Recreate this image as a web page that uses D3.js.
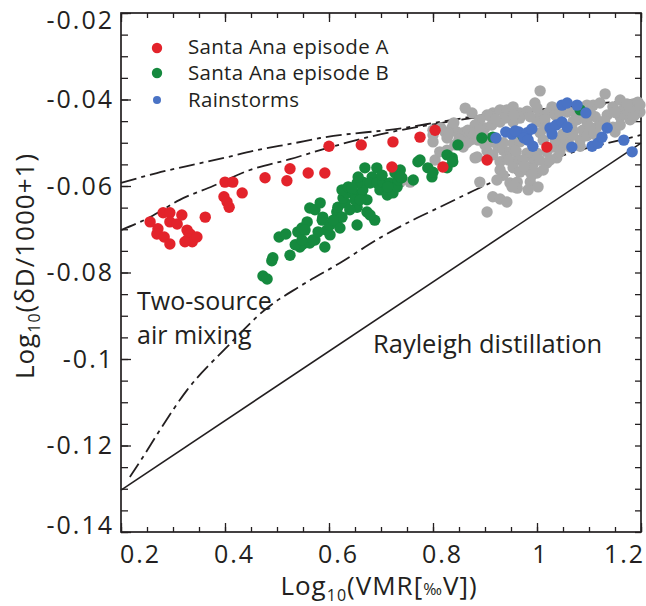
<!DOCTYPE html>
<html><head><meta charset="utf-8">
<script src="https://cdn.jsdelivr.net/npm/d3@7"></script>
<style>
body{margin:0;background:#fff;}
svg{display:block;}
text{font-family:"Open Sans",sans-serif;fill:#231f20;}
</style></head><body>
<svg id="chart" width="646" height="606"></svg>
<script>
// ---------- DATA ----------
const xDomain = [0.2, 1.2];
const yDomain = [-0.14, -0.02];
const xTickValues = [0.2, 0.4, 0.6, 0.8, 1.0, 1.2];
const xTickLabels = ["0.2", "0.4", "0.6", "0.8", "1", "1.2"];
const yTickValues = [-0.02, -0.04, -0.06, -0.08, -0.1, -0.12, -0.14];
const yTickLabels = ["-0.02", "-0.04", "-0.06", "-0.08", "-0.1", "-0.12", "-0.14"];
const seriesNames = ["Santa Ana episode A", "Santa Ana episode B", "Rainstorms"];

const grayPoints = [
[1.006,-0.0380],[0.996,-0.0408],[1.131,-0.0387],[0.862,-0.0420],[0.875,-0.0431],[0.904,-0.0436],
[0.915,-0.0431],[0.929,-0.0424],[0.942,-0.0424],[0.954,-0.0417],[0.967,-0.0431],[0.981,-0.0427],
[1.006,-0.0436],[1.021,-0.0431],[1.029,-0.0417],[1.058,-0.0429],[1.096,-0.0413],[1.108,-0.0413],
[1.121,-0.0408],[1.146,-0.0417],[1.160,-0.0401],[1.165,-0.0424],[1.185,-0.0410],[1.194,-0.0406],
[1.198,-0.0429],[1.112,-0.0440],[1.135,-0.0436],[1.160,-0.0440],[1.077,-0.0447],[1.096,-0.0452],
[1.125,-0.0452],[1.146,-0.0464],[1.088,-0.0471],[1.069,-0.0471],[0.929,-0.0452],[0.954,-0.0452],
[0.967,-0.0443],[1.000,-0.0452],[1.015,-0.0447],[0.910,-0.0438],[0.800,-0.0471],[0.823,-0.0475],
[0.837,-0.0464],[0.846,-0.0475],[0.858,-0.0477],[0.867,-0.0471],[0.871,-0.0482],[0.900,-0.0466],
[0.900,-0.0487],[0.871,-0.0494],[0.856,-0.0489],[0.827,-0.0489],[0.800,-0.0482],[0.800,-0.0498],
[0.925,-0.0510],[0.954,-0.0501],[0.967,-0.0498],[1.060,-0.0498],[1.083,-0.0494],[1.096,-0.0484],
[1.069,-0.0482],[1.050,-0.0498],[1.044,-0.0512],[1.063,-0.0510],[1.083,-0.0508],[0.827,-0.0517],
[0.885,-0.0533],[0.900,-0.0505],[0.904,-0.0519],[0.915,-0.0528],[0.935,-0.0517],[0.948,-0.0521],
[0.962,-0.0540],[0.929,-0.0544],[0.942,-0.0533],[0.954,-0.0558],[0.929,-0.0563],[0.935,-0.0575],
[0.967,-0.0568],[0.981,-0.0563],[0.992,-0.0551],[0.992,-0.0535],[1.000,-0.0524],[0.981,-0.0524],
[1.000,-0.0570],[1.019,-0.0547],[1.019,-0.0521],[1.031,-0.0510],[1.038,-0.0535],[1.044,-0.0521],
[0.804,-0.0540],[0.881,-0.0535],[0.890,-0.0591],[0.923,-0.0586],[0.948,-0.0593],[0.962,-0.0591],
[0.962,-0.0605],[0.987,-0.0591],[1.002,-0.0602],[0.952,-0.0602],[0.915,-0.0625],[0.929,-0.0630],
[0.942,-0.0637],[0.904,-0.0660],[0.756,-0.0591],[0.737,-0.0591],[0.813,-0.0521],
[0.890,-0.0447],[0.881,-0.0459],[0.913,-0.0459],[0.938,-0.0443],[0.987,-0.0440],[1.035,-0.0436],
[1.044,-0.0429],[1.073,-0.0429],[1.083,-0.0420],[1.175,-0.0429],[1.188,-0.0436],[1.102,-0.0429],
[1.115,-0.0464],[1.150,-0.0475],[1.160,-0.0459],[1.179,-0.0447],[1.198,-0.0413],[1.015,-0.0466],
[1.006,-0.0477],[1.012,-0.0494],[1.035,-0.0494],[0.887,-0.0494],[0.913,-0.0498],[0.842,-0.0505],
[0.858,-0.0510],[0.973,-0.0540],[1.012,-0.0563],[0.983,-0.0609],[1.102,-0.0464],[1.179,-0.0424],
[1.173,-0.0410],
[0.815,-0.0466],[0.830,-0.0480],[0.850,-0.0492],[0.865,-0.0500],[0.880,-0.0478],[0.890,-0.0470],
[0.840,-0.0454],[0.905,-0.0500],[0.935,-0.0500],[0.945,-0.0540],[0.960,-0.0520],[0.975,-0.0555],
[0.990,-0.0575],[1.005,-0.0540],[1.025,-0.0540],[1.050,-0.0480],[1.070,-0.0450],[1.090,-0.0440],
[1.110,-0.0480],[1.130,-0.0450],[1.150,-0.0430],[1.185,-0.0440],[1.000,-0.0420],[0.955,-0.0435],
[0.920,-0.0445]
];

const episodeB = [
[0.473,-0.0808],[0.481,-0.0815],[0.490,-0.0773],[0.492,-0.0766],[0.525,-0.0760],[0.504,-0.0718],
[0.517,-0.0711],[0.540,-0.0706],[0.544,-0.0741],[0.550,-0.0734],[0.563,-0.0732],[0.592,-0.0741],
[0.548,-0.0697],[0.558,-0.0683],[0.554,-0.0702],[0.573,-0.0725],[0.587,-0.0679],[0.602,-0.0713],
[0.596,-0.0702],[0.602,-0.0690],[0.563,-0.0651],[0.573,-0.0655],[0.583,-0.0639],[0.588,-0.0672],
[0.615,-0.0683],[0.621,-0.0697],[0.615,-0.0660],[0.617,-0.0649],[0.625,-0.0672],[0.631,-0.0639],
[0.627,-0.0628],[0.635,-0.0616],[0.625,-0.0609],[0.637,-0.0602],[0.646,-0.0614],[0.654,-0.0690],
[0.654,-0.0649],[0.650,-0.0632],[0.640,-0.0655],[0.663,-0.0625],[0.665,-0.0609],[0.673,-0.0632],
[0.673,-0.0660],[0.688,-0.0679],[0.679,-0.0667],[0.665,-0.0591],[0.654,-0.0593],[0.656,-0.0579],
[0.669,-0.0558],[0.692,-0.0558],[0.683,-0.0579],[0.679,-0.0593],[0.692,-0.0593],[0.698,-0.0609],
[0.704,-0.0591],[0.712,-0.0605],[0.712,-0.0621],[0.723,-0.0616],[0.717,-0.0593],[0.731,-0.0570],
[0.737,-0.0563],[0.740,-0.0581],[0.731,-0.0602],[0.702,-0.0575],[0.771,-0.0544],[0.762,-0.0586],
[0.790,-0.0558],[0.798,-0.0579],[0.800,-0.0568],[0.775,-0.0540],[0.827,-0.0528],[0.837,-0.0535],
[0.848,-0.0505],[0.894,-0.0489],[0.915,-0.0487],[0.973,-0.0484],[1.083,-0.0424],[0.608,-0.0679],
[0.644,-0.0605],[0.660,-0.0632],[0.733,-0.0586],[0.727,-0.0570],[0.713,-0.0602],[0.737,-0.0579],
[0.535,-0.0736],[0.548,-0.0725],[0.569,-0.0725],[0.579,-0.0706],[0.827,-0.0558],[0.838,-0.0544]
];

const episodeA = [
[0.256,-0.0683],[0.271,-0.0699],[0.269,-0.0711],[0.281,-0.0662],[0.294,-0.0662],[0.294,-0.0683],
[0.308,-0.0688],[0.283,-0.0718],[0.294,-0.0734],[0.317,-0.0667],[0.327,-0.0702],[0.333,-0.0711],
[0.329,-0.0723],[0.337,-0.0729],[0.323,-0.0729],[0.346,-0.0718],[0.362,-0.0672],[0.400,-0.0591],
[0.415,-0.0591],[0.398,-0.0625],[0.404,-0.0637],[0.408,-0.0649],[0.433,-0.0616],[0.477,-0.0581],
[0.519,-0.0588],[0.525,-0.0560],[0.560,-0.0570],[0.592,-0.0570],[0.600,-0.0508],[0.662,-0.0505],
[0.723,-0.0498],[0.721,-0.0556],[0.775,-0.0487],[0.804,-0.0471],[0.819,-0.0556],[0.904,-0.0540],
[1.019,-0.0510]
];

const rainstorms = [
[1.048,-0.0413],[1.058,-0.0408],[1.077,-0.0413],[1.094,-0.0431],[0.940,-0.0475],[0.952,-0.0480],
[0.965,-0.0475],[0.981,-0.0477],[0.990,-0.0468],[0.975,-0.0489],[0.921,-0.0489],[0.992,-0.0508],
[0.983,-0.0494],[1.025,-0.0466],[1.037,-0.0459],[1.048,-0.0452],[1.058,-0.0464],[1.029,-0.0480],
[1.067,-0.0510],[1.106,-0.0508],[1.117,-0.0501],[1.125,-0.0487],[1.135,-0.0466],[1.167,-0.0494],
[1.183,-0.0521],[0.958,-0.0473]
];

const rayleighLine = [[0.2,-0.1303],[1.2,-0.0501]];
const mixUpper = [[0.2,-0.0593],[0.269,-0.0570],[0.327,-0.0554],[0.398,-0.0535],[0.462,-0.0517],
  [0.533,-0.0501],[0.583,-0.0489],[0.742,-0.0466],[0.813,-0.0452],[0.896,-0.0436],[1.031,-0.0420],[1.2,-0.0399]];
const mixMiddle = [[0.2,-0.0702],[0.256,-0.0672],[0.313,-0.0632],[0.377,-0.0600],[0.448,-0.0563],
  [0.525,-0.0538],[0.583,-0.0517],[0.712,-0.0477],[0.813,-0.0455],[0.896,-0.0439],[1.031,-0.0423],[1.2,-0.0402]];
const mixLower = [[0.217,-0.1273],[0.242,-0.1227],[0.275,-0.1164],[0.327,-0.1072],[0.404,-0.0972],
  [0.481,-0.0882],[0.544,-0.0832],[0.621,-0.0778],[0.698,-0.0720],[0.769,-0.0674],[0.813,-0.0649],
  [0.885,-0.0607],[0.935,-0.0580],[1.012,-0.0545],[1.077,-0.0519],[1.160,-0.0494],[1.2,-0.0482]];

// ---------- LAYOUT / STYLE ----------
const plot = {left:121, right:641, top:13, bottom:532};
const colors = {gray:"#a8a8a8", A:"#e3232b", B:"#15893e", rain:"#4a73c5", ink:"#231f20"};
const xLabelShift = [19, 9, 9, 9, 3, -17];
const yLabelShift = [7, 0, 0, 0, 0, 0, -7];

const svg = d3.select("#chart");
const x = d3.scaleLinear().domain(xDomain).range([plot.left, plot.right]);
const y = d3.scaleLinear().domain(yDomain).range([plot.bottom, plot.top]);

const xMinor = d3.range(0, 21).map(i => +(0.2 + i * 0.05).toFixed(3));
const yMinor = d3.range(0, 25).map(i => +(-0.14 + i * 0.005).toFixed(4));

function strip(g){ g.select(".domain").remove(); g.selectAll("line").attr("stroke", colors.ink).attr("stroke-width", 1.3); }

// bottom minor + major
svg.append("g").attr("transform", `translate(0,${plot.bottom})`)
  .call(d3.axisBottom(x).tickValues(xMinor).tickSize(-5).tickFormat("")).call(strip);
const xb = svg.append("g").attr("transform", `translate(0,${plot.bottom})`)
  .call(d3.axisBottom(x).tickValues(xTickValues).tickSize(-9).tickPadding(13)
    .tickFormat((d,i) => xTickLabels[i])).call(strip);
xb.selectAll("text").attr("font-size", 25).attr("letter-spacing", 2).attr("fill", colors.ink)
  .attr("font-family", '"Open Sans",sans-serif')
  .attr("dx", (d,i) => xLabelShift[i]);

// top
svg.append("g").attr("transform", `translate(0,${plot.top})`)
  .call(d3.axisTop(x).tickValues(xMinor).tickSize(-5).tickFormat("")).call(strip);
svg.append("g").attr("transform", `translate(0,${plot.top})`)
  .call(d3.axisTop(x).tickValues(xTickValues).tickSize(-9).tickFormat("")).call(strip);

// left
svg.append("g").attr("transform", `translate(${plot.left},0)`)
  .call(d3.axisLeft(y).tickValues(yMinor).tickSize(-7).tickFormat("")).call(strip);
const yl = svg.append("g").attr("transform", `translate(${plot.left},0)`)
  .call(d3.axisLeft(y).tickValues(yTickValues).tickSize(-10).tickPadding(7)
    .tickFormat((d,i) => yTickLabels[i])).call(strip);
yl.selectAll("text").attr("font-size", 25).attr("letter-spacing", 2).attr("fill", colors.ink)
  .attr("font-family", '"Open Sans",sans-serif')
  .attr("dy", (d,i) => (0.32*25 + yLabelShift[i]) + "px");

// right
svg.append("g").attr("transform", `translate(${plot.right},0)`)
  .call(d3.axisRight(y).tickValues(yMinor).tickSize(-6).tickFormat("")).call(strip);

// frame
svg.append("rect").attr("x", plot.left).attr("y", plot.top)
  .attr("width", plot.right - plot.left).attr("height", plot.bottom - plot.top)
  .attr("fill", "none").attr("stroke", colors.ink).attr("stroke-width", 1.7);

// lines
const line = d3.line().x(d => x(d[0])).y(d => y(d[1])).curve(d3.curveMonotoneX);
svg.append("path").datum(rayleighLine).attr("d", line)
  .attr("fill", "none").attr("stroke", colors.ink).attr("stroke-width", 1.6);
[mixUpper, mixMiddle, mixLower].forEach(c => {
  svg.append("path").datum(c).attr("d", line)
    .attr("fill", "none").attr("stroke", colors.ink).attr("stroke-width", 1.8)
    .attr("stroke-dasharray", "16,5,4,5");
});

// points
const R = 5.7;
function dots(data, color){
  svg.append("g").selectAll("circle").data(data).join("circle")
    .attr("cx", d => x(d[0])).attr("cy", d => y(d[1])).attr("r", R).attr("fill", color);
}
dots(grayPoints, colors.gray);
dots(episodeB, colors.B);
dots(episodeA, colors.A);
dots(rainstorms, colors.rain);

// legend
const legend = [
  {name: seriesNames[0], color: colors.A, r: 5.2, cy: 48, ty: 54},
  {name: seriesNames[1], color: colors.B, r: 5.2, cy: 73, ty: 80},
  {name: seriesNames[2], color: colors.rain, r: 4, cy: 100, ty: 107}
];
const lg = svg.append("g");
lg.selectAll("circle").data(legend).join("circle")
  .attr("cx", 157).attr("cy", d => d.cy).attr("r", d => d.r).attr("fill", d => d.color);
lg.selectAll("text").data(legend).join("text")
  .attr("x", 188).attr("y", d => d.ty).attr("font-size", 20.5).attr("letter-spacing", 0.3).text(d => d.name);

// annotations
svg.append("text").attr("x", 137).attr("y", 310).attr("font-size", 25).text("Two-source");
svg.append("text").attr("x", 137).attr("y", 344).attr("font-size", 25).text("air mixing");
svg.append("text").attr("x", 373).attr("y", 353).attr("font-size", 25.5).text("Rayleigh distillation");

// axis titles
const xt = svg.append("text").attr("x", 379).attr("y", 595).attr("text-anchor", "middle")
  .attr("font-size", 26).attr("letter-spacing", 1);
xt.append("tspan").text("Log");
xt.append("tspan").attr("font-size", 16).attr("dy", 6).text("10");
xt.append("tspan").attr("dy", -6).text("(VMR[");
xt.append("tspan").attr("font-size", 16).text("‰");
xt.append("tspan").text("V])");

const yt = svg.append("text").attr("transform", "translate(34,266) rotate(-90)")
  .attr("text-anchor", "middle").attr("font-size", 26).attr("letter-spacing", 1);
yt.append("tspan").text("Log");
yt.append("tspan").attr("font-size", 16).attr("dy", 6).text("10");
yt.append("tspan").attr("dy", -6).text("(δD/1000+1)");
</script>
</body></html>
